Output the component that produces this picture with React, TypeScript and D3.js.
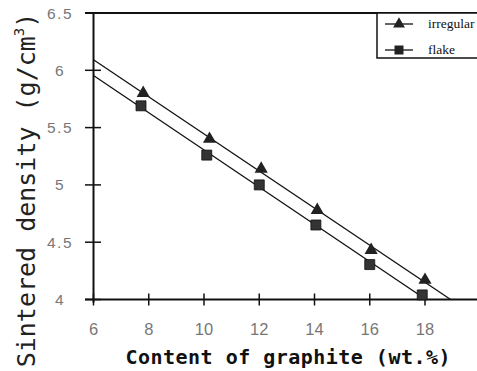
import * as d3 from "d3";

// values
const xTicks = [6, 8, 10, 12, 14, 16, 18];
const yTicks = [4, 4.5, 5, 5.5, 6, 6.5];
const irregularX = [7.8, 10.2, 12.07, 14.1, 16.05, 18.0];
const irregularY = [5.8, 5.4, 5.14, 4.78, 4.43, 4.17];
const flakeX = [7.72, 10.1, 12.0, 14.05, 16.0, 17.9];
const flakeY = [5.69, 5.26, 5.0, 4.65, 4.305, 4.04];
const seriesNames = ["irregular", "flake"];

const W = 477;
const H = 371;

// least squares line through the points
function fit(xs: number[], ys: number[]) {
  const mx = d3.mean(xs)!;
  const my = d3.mean(ys)!;
  const sxy = d3.sum(xs, (x, i) => (x - mx) * (ys[i] - my));
  const sxx = d3.sum(xs, (x) => (x - mx) ** 2);
  const slope = sxy / sxx;
  return { slope, intercept: my - slope * mx };
}

function fitEnds(xs: number[], ys: number[], x0: number, yMin: number) {
  const { slope, intercept } = fit(xs, ys);
  const x1 = (yMin - intercept) / slope;
  return [
    [x0, intercept + slope * x0],
    [x1, yMin],
  ];
}

export default function App() {
  const x = d3.scaleLinear().domain([6, 20]).range([93.5, 480.25]);
  const y = d3.scaleLinear().domain([4, 6.5]).range([299.5, 13]);

  const line = d3
    .line<number[]>()
    .x((d) => x(d[0]))
    .y((d) => y(d[1]));

  const irrLine = fitEnds(irregularX, irregularY, 6, 4);
  const flkLine = fitEnds(flakeX, flakeY, 6, 4);

  const tri = d3.symbol(d3.symbolTriangle, 75)();
  const sq = d3.symbol(d3.symbolSquare, 100)();

  const x0 = x(6);
  const y0 = y(4);
  const yTop = y(6.5);

  return (
    <svg
      width={W}
      height={H}
      style={{ position: "absolute", left: 0, top: 0, background: "#fff" }}
    >
      {/* regression lines */}
      <path d={line(irrLine)!} fill="none" stroke="#111" strokeWidth={1.3} />
      <path d={line(flkLine)!} fill="none" stroke="#111" strokeWidth={1.3} />

      {/* frame / axes */}
      <line x1={85} x2={W} y1={yTop} y2={yTop} stroke="#111" strokeWidth={2} />
      <line x1={85} x2={W} y1={y0} y2={y0} stroke="#111" strokeWidth={2} />
      <line x1={x0} x2={x0} y1={yTop} y2={y0 + 3} stroke="#111" strokeWidth={2} />

      {yTicks.map((t) => (
        <g key={"y" + t}>
          <line x1={85} x2={101} y1={y(t)} y2={y(t)} stroke="#111" strokeWidth={1.5} />
          <text
            x={60}
            y={y(t)}
            dy="0.36em"
            textAnchor="middle"
            fontFamily="Liberation Sans, Arial, sans-serif"
            fontSize={15.5}
            fill="#777"
            letterSpacing={1.5}
          >
            {t}
          </text>
        </g>
      ))}

      {xTicks.map((t) => (
        <g key={"x" + t}>
          <line x1={x(t)} x2={x(t)} y1={y0 - 6} y2={y0 + 6} stroke="#111" strokeWidth={1.5} />
          <text
            x={x(t)}
            y={335}
            textAnchor="middle"
            fontFamily="Liberation Sans, Arial, sans-serif"
            fontSize={16.5}
            fill="#777"
          >
            {t}
          </text>
        </g>
      ))}

      {/* markers */}
      {irregularX.map((v, i) => (
        <path key={"t" + i} d={tri!} transform={`translate(${x(v)},${y(irregularY[i])})`} fill="#222" />
      ))}
      {flakeX.map((v, i) => (
        <path key={"s" + i} d={sq!} transform={`translate(${x(v)},${y(flakeY[i])})`} fill="#333" stroke="#111" strokeWidth={0.8} />
      ))}

      {/* legend */}
      <rect x={377} y={yTop} width={110} height={45} fill="#fff" stroke="#111" strokeWidth={1.5} />
      {seriesNames.map((name, i) => {
        const ly = 24 + i * 26;
        return (
          <g key={name}>
            <line x1={385} x2={413} y1={ly} y2={ly} stroke="#111" strokeWidth={1.3} />
            <path d={i === 0 ? tri! : sq!} transform={`translate(399,${ly}) scale(0.9)`} fill="#222" />
            <text x={428} y={ly} dy="0.32em" fontFamily="Liberation Serif, Times New Roman, serif" fontSize={13.5} fill="#111">
              {name}
            </text>
          </g>
        );
      })}

      {/* axis titles */}
      <text
        x={288}
        y={364}
        textAnchor="middle"
        fontFamily="DejaVu Sans Mono, monospace"
        fontWeight="bold"
        fontSize={20}
        fill="#111"
        textLength={325}
      >
        Content of graphite (wt.%)
      </text>
      <text
        transform="translate(35,190) rotate(-90)"
        textAnchor="middle"
        fontFamily="DejaVu Sans Mono, monospace"
        fontSize={25}
        fill="#222"
      >
        Sintered density (g/cm
        <tspan fontSize={14} dy={-11}>3</tspan>
        <tspan dy={11}>)</tspan>
      </text>
    </svg>
  );
}
